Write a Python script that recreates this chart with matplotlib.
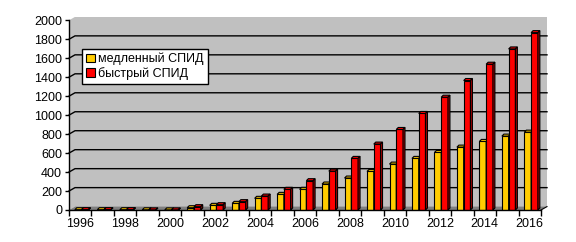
import numpy as np
import matplotlib.pyplot as plt
from matplotlib.patches import Polygon, Patch

plt.rcParams['font.family'] = ['Liberation Sans', 'DejaVu Sans']

# data
years = list(range(1996, 2017))
slow = [3, 3, 3, 2, 1, 24, 49, 70, 123, 165, 218, 274, 337, 407, 484, 544, 607, 663, 723, 779, 821]
fast = [4, 4, 4, 1, 1, 35, 56, 88, 147, 218, 309, 410, 544, 695, 849, 1018, 1189, 1365, 1537, 1698, 1870]
labels = ['медленный СПИД', 'быстрый СПИД']
colors = ['#FFCC00', '#FF0000']
side_colors = ['#9C7C00', '#A00000']

W, H = 576, 242
fig = plt.figure(figsize=(W / 100, H / 100), dpi=100)
ax = fig.add_axes([69 / W, (H - 210) / H, 472 / W, 189.7 / H])
n = len(years)
x = np.arange(n)
ax.set_xlim(-0.5, n - 0.5)
ax.set_ylim(0, 2000)
ax.patch.set_visible(False)

# pixel -> data conversion for the fake 3D depth
ppx = 472 / n
ppy = 189.7 / 2000
DX, DY = 6 / ppx, 3.4 / ppy      # wall depth
bdx, bdy = 2 / ppx, 2 / ppy      # bar depth

x0, x1 = -0.5, n - 0.5
kw = dict(clip_on=False)
# back wall, left wall, floor
ax.add_patch(Polygon([(x0 + DX, DY), (x1 + DX, DY), (x1 + DX, 2000 + DY), (x0 + DX, 2000 + DY)],
                     fc='#C0C0C0', ec='none', zorder=0, **kw))
ax.add_patch(Polygon([(x0, 0), (x0, 2000), (x0 + DX, 2000 + DY), (x0 + DX, DY)],
                     fc='#C0C0C0', ec='none', zorder=0, **kw))
ax.add_patch(Polygon([(x0, 0), (x1, 0), (x1 + DX, DY), (x0 + DX, DY)],
                     fc='#808080', ec='none', zorder=0.5, **kw))
for v in range(200, 2000, 200):
    ax.plot([x0, x0 + DX, x1 + DX], [v, v + DY, v + DY], color='black', lw=1, zorder=0.6, **kw)
ax.plot([x1, x1 + DX], [0, DY], color='black', lw=0.8, zorder=0.6, **kw)

# bars with top and side faces
width = 0.3
offsets = [-0.09, 0.21]
for vals, off, c, sc in zip([slow, fast], offsets, colors, side_colors):
    ax.bar(x + off, vals, width, color=c, edgecolor='black', linewidth=0.8, zorder=2)
    for xi, v in zip(x, vals):
        l, r = xi + off - width / 2, xi + off + width / 2
        ax.add_patch(Polygon([(l, v), (r, v), (r + bdx, v + bdy), (l + bdx, v + bdy)],
                             fc=c, ec='black', lw=0.8, zorder=2, **kw))
        ax.add_patch(Polygon([(r, 0), (r, v), (r + bdx, v + bdy), (r + bdx, bdy)],
                             fc=sc, ec='black', lw=0.8, zorder=2, **kw))

# axes
for s in ['top', 'right']:
    ax.spines[s].set_visible(False)
for s in ['left', 'bottom']:
    ax.spines[s].set_linewidth(1)
ax.set_yticks(range(0, 2001, 200))
ax.tick_params(axis='y', length=3, width=1, pad=2, labelsize=9)
ax.set_xticks(np.arange(n + 1) - 0.5)
ax.set_xticklabels([])
ax.tick_params(axis='x', which='major', length=4, width=1)
ax.set_xticks(x[::2], minor=True)
ax.set_xticklabels([str(y) for y in years[::2]], minor=True)
ax.tick_params(axis='x', which='minor', length=0, pad=6, labelsize=9)

handles = [Patch(fc=c, ec='black', lw=0.8) for c in colors]
fig.legend(handles, labels, loc='upper left', bbox_to_anchor=(82 / W, 1 - 49 / H),
           fontsize=9, frameon=True, fancybox=False, edgecolor='black', framealpha=1,
           handlelength=0.7, handleheight=0.7, handletextpad=0.3, borderpad=0.3,
           labelspacing=0.15, borderaxespad=0)

fig.savefig('out.png', dpi=100)
